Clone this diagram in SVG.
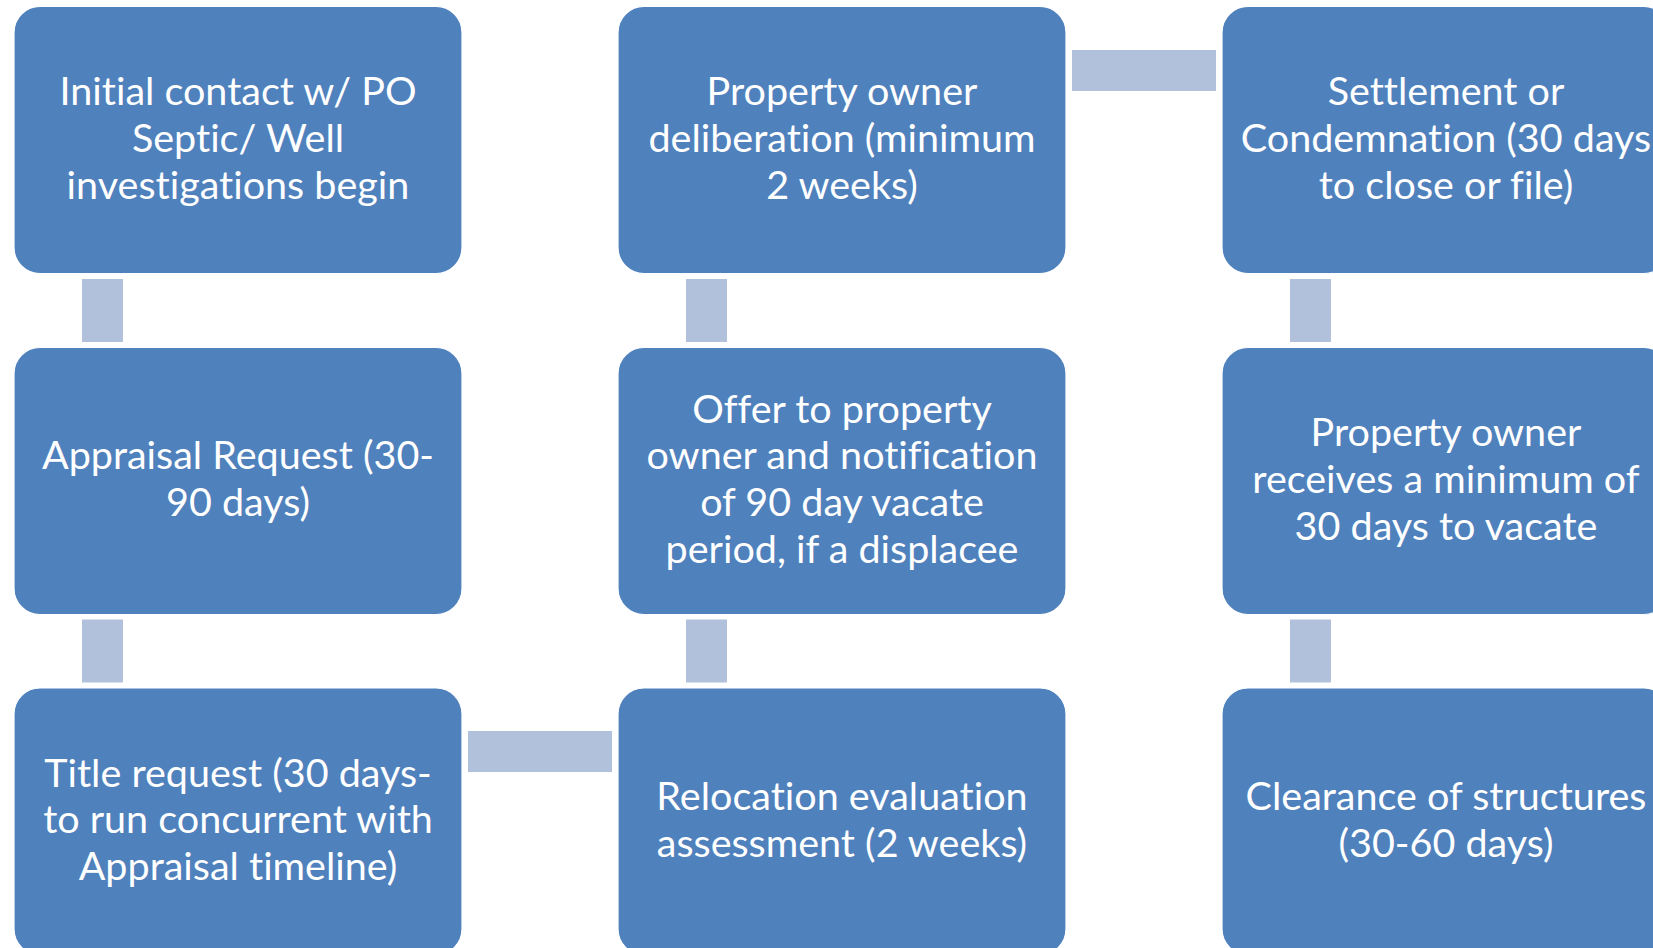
<svg xmlns="http://www.w3.org/2000/svg" width="1653" height="948" viewBox="0 0 1653 948">
<style>
.box{fill:#4F81BD;stroke:#ffffff;stroke-width:1.2}
.lbl{fill:#ffffff;font-family:Lato,"Open Sans","Liberation Sans",sans-serif;font-size:39.5px;text-anchor:middle;font-variant-ligatures:none}
.conn{fill:#B1C1DB}
</style>
<rect width="1653" height="948" fill="#ffffff"/>
<g id="connectors">
<rect class="conn" x="82" y="279" width="41" height="63"/>
<rect class="conn" x="82" y="619.5" width="41" height="63"/>
<rect class="conn" x="468" y="731" width="144" height="41"/>
<rect class="conn" x="686" y="619.5" width="41" height="63"/>
<rect class="conn" x="686" y="279" width="41" height="63"/>
<rect class="conn" x="1072" y="50" width="144" height="41"/>
<rect class="conn" x="1290" y="279" width="41" height="63"/>
<rect class="conn" x="1290" y="619.5" width="41" height="63"/>
</g>
<g id="n1">
<rect class="box" x="14" y="6.5" width="448" height="267" rx="26"/>
<text class="lbl" x="238" y="105">Initial contact w/ PO</text>
<text class="lbl" x="238" y="152">Septic/ Well</text>
<text class="lbl" x="238" y="198.5">investigations begin</text>
</g>
<g id="n2">
<rect class="box" x="14" y="347.5" width="448" height="267" rx="26"/>
<text class="lbl" x="238" y="469">Appraisal Request (30-</text>
<text class="lbl" x="238" y="516">90 days)</text>
</g>
<g id="n3">
<rect class="box" x="14" y="688" width="448" height="267" rx="26"/>
<text class="lbl" x="238" y="786.5">Title request (30 days-</text>
<text class="lbl" x="238" y="833">to run concurrent with</text>
<text class="lbl" x="238" y="880">Appraisal timeline)</text>
</g>
<g id="n4">
<rect class="box" x="618" y="688" width="448" height="267" rx="26"/>
<text class="lbl" x="842" y="809.5">Relocation evaluation</text>
<text class="lbl" x="842" y="856.5">assessment (2 weeks)</text>
</g>
<g id="n5">
<rect class="box" x="618" y="347.5" width="448" height="267" rx="26"/>
<text class="lbl" x="842" y="422.5">Offer to property</text>
<text class="lbl" x="842" y="469">owner and notification</text>
<text class="lbl" x="842" y="516">of 90 day vacate</text>
<text class="lbl" x="842" y="562.5">period, if a displacee</text>
</g>
<g id="n6">
<rect class="box" x="618" y="6.5" width="448" height="267" rx="26"/>
<text class="lbl" x="842" y="105">Property owner</text>
<text class="lbl" x="842" y="152">deliberation (minimum</text>
<text class="lbl" x="842" y="198.5">2 weeks)</text>
</g>
<g id="n7">
<rect class="box" x="1222" y="6.5" width="448" height="267" rx="26"/>
<text class="lbl" x="1446" y="105">Settlement or</text>
<text class="lbl" x="1446" y="152">Condemnation (30 days</text>
<text class="lbl" x="1446" y="198.5">to close or file)</text>
</g>
<g id="n8">
<rect class="box" x="1222" y="347.5" width="448" height="267" rx="26"/>
<text class="lbl" x="1446" y="446">Property owner</text>
<text class="lbl" x="1446" y="492.5">receives a minimum of</text>
<text class="lbl" x="1446" y="539.5">30 days to vacate</text>
</g>
<g id="n9">
<rect class="box" x="1222" y="688" width="448" height="267" rx="26"/>
<text class="lbl" x="1446" y="809.5">Clearance of structures</text>
<text class="lbl" x="1446" y="856.5">(30-60 days)</text>
</g>
</svg>
